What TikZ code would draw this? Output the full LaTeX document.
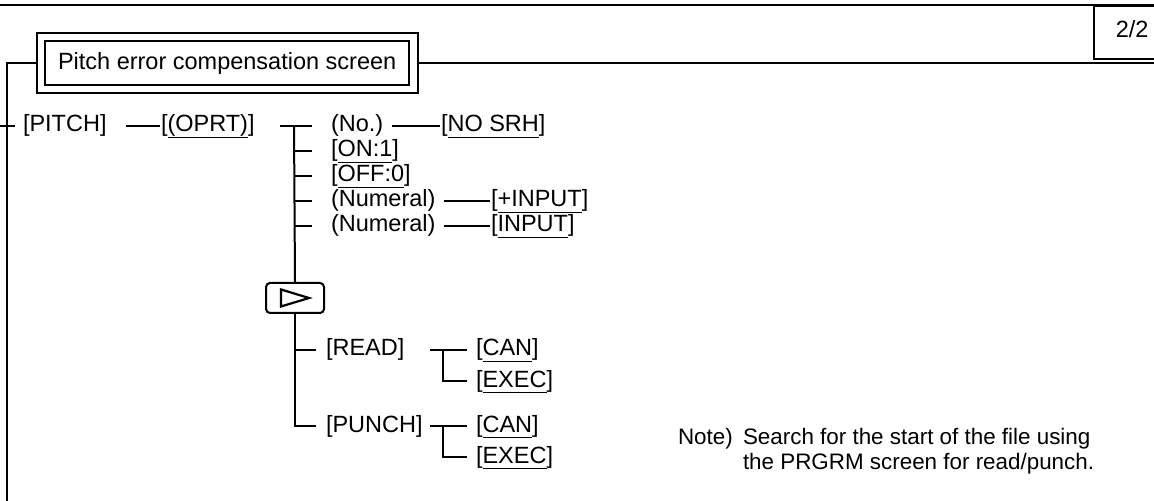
\documentclass[tikz,border=0pt]{standalone}
\usepackage{fontspec}
\setmainfont{Liberation Sans}
\newcommand{\skey}[1]{\setbox0=\hbox{#1}\rlap{\rule[-3.2pt]{\wd0}{0.9pt}}\box0}
\begin{document}
\begin{tikzpicture}[x=0.5pt, y=-0.5pt, line width=1pt, font=\fontsize{11.75}{12.5}\selectfont,
	key/.style={inner sep=0pt, anchor=west, text height=9pt, text depth=3pt},
	nextkey/.style={draw, rounded corners=2pt, minimum width=29pt, minimum height=15pt, inner sep=0pt},
	titlebox/.style={draw, double, double distance=3.25pt, anchor=west, minimum height=26pt, inner xsep=8.5pt}]
	\useasboundingbox (0,0) rectangle (1154,501);
	% frame of the page
	\draw[line width=1.3pt] (0,5) -- (1154,5);
	\node[draw, line width=0.8pt, anchor=north west, inner xsep=11pt, text width=24pt, align=left, minimum height=26.5pt, text height=8pt, text depth=3pt] (page) at (1093,5) {2/2};
	\coordinate (tl) at (7,63);
	\coordinate (bl) at (7,501);
	\coordinate (lft) at (0,126);
	\coordinate (rgt) at (1154,63);
	\node[titlebox] (title) at (40,63) {Pitch error compensation screen};
	\draw[shorten >=2pt] (bl) -- (tl) -- (title.west);
	\draw[shorten <=2pt] (title.east) -- (rgt);
	% soft keys
	\node[key] (pitch) at (22,126) {[PITCH]};
	\node[key] (oprt) at (160,126) {[\skey{(OPRT)}]};
	\node[key] (no) at (330,126) {(No.)};
	\node[key] (nosrh) at (440,126) {[\skey{NO SRH}]};
	\node[key] (on) at (330,151) {[\skey{ON:1}]};
	\node[key] (off) at (330,176) {[\skey{OFF:0}]};
	\node[key] (num1) at (330,201) {(Numeral)};
	\node[key] (pinput) at (490,201) {[\skey{+INPUT}]};
	\node[key] (num2) at (330,226) {(Numeral)};
	\node[key] (input) at (490,226) {[\skey{INPUT}]};
	\node[nextkey] (nxt) at (295,298) {};
	\draw[line width=1.1pt, shift={(nxt.center)}] (-14,-8.5) -- (14,0) -- (-14,8.5) -- cycle;
	\node[key] (read) at (325,350) {[READ]};
	\node[key] (can1) at (475,350) {[\skey{CAN}]};
	\node[key] (exec1) at (475,381) {[\skey{EXEC}]};
	\node[key] (punch) at (325,426) {[PUNCH]};
	\node[key] (can2) at (475,426) {[\skey{CAN}]};
	\node[key] (exec2) at (475,457) {[\skey{EXEC}]};
	% connectors
	\draw[shorten >=3.5pt] (lft) -- (pitch.west);
	\draw[shorten <=9pt] (pitch.east) -- (oprt.west);
	\path (no.west) ++(-36,0) coordinate (bus);
	\draw[shorten <=12pt, shorten >=9pt] (oprt.east) -- (no.west);
	\draw (bus) -- (nxt.north);
	\foreach \k in {on,off,num1,num2}
		\draw[shorten >=9pt] (bus |- \k.west) -- (\k.west);
	\draw[shorten >=4.5pt] (nxt.south |- read.west) -- (read.west);
	\draw[shorten >=4.5pt] (nxt.south) |- (punch.west);
	\draw[shorten <=4pt] (no.east) -- (nosrh.west);
	\draw[shorten <=4pt] (num1.east) -- (pinput.west);
	\draw[shorten <=4pt] (num2.east) -- (input.west);
	\path (can1.west) ++(-32,0) coordinate (rfork);
	\draw[shorten <=12.5pt, shorten >=4pt] (read.east) -- (can1.west);
	\draw[shorten >=4pt] (rfork) |- (exec1.west);
	\path (can2.west) ++(-32,0) coordinate (pfork);
	\draw[shorten <=3pt, shorten >=4pt] (punch.east) -- (can2.west);
	\draw[shorten >=4pt] (pfork) |- (exec2.west);
	% note
	\node[inner sep=0pt, anchor=north west, font=\fontsize{11.2}{12.5}\selectfont] (note) at (677,427) {Note)};
	\node[inner sep=0pt, anchor=north west, align=left, font=\fontsize{11.2}{12.5}\selectfont] (notetxt) at (742,427) {Search for the start of the file using\\the PRGRM screen for read/punch.};
\end{tikzpicture}
\end{document}
